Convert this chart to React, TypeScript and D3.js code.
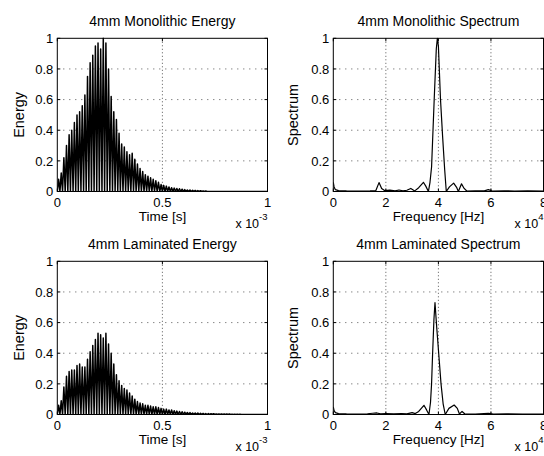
import React from 'react';
import * as d3 from 'd3';

const W = 544;
const H = 456;
const FONT = '"Liberation Sans", Arial, Helvetica, sans-serif';

// ---------- data ----------
// spacing between successive energy oscillation peaks (seconds)
const PEAK_SPACING_S = 1.25e-5;

// peak value of each energy oscillation, 4mm monolithic
const monoPeaks = [
  0.08, 0.12, 0.22, 0.3, 0.37, 0.4, 0.45, 0.5, 0.52, 0.56,
  0.63, 0.75, 0.84, 0.89, 0.95, 0.97, 0.93, 1.0, 0.97, 0.8,
  0.62, 0.52, 0.47, 0.38, 0.31, 0.29, 0.26, 0.24, 0.25, 0.21,
  0.18, 0.15, 0.13, 0.11, 0.1, 0.09, 0.08, 0.07, 0.06, 0.045,
  0.04, 0.035, 0.03, 0.025, 0.022, 0.02, 0.018, 0.015, 0.012, 0.01,
  0.01, 0.008, 0.007, 0.006, 0.005, 0.004, 0.003,
];

// peak value of each energy oscillation, 4mm laminated
const lamPeaks = [
  0.06, 0.09, 0.18, 0.25, 0.28, 0.29, 0.29, 0.32, 0.33, 0.31,
  0.31, 0.36, 0.41, 0.45, 0.49, 0.53, 0.52, 0.5, 0.53, 0.46,
  0.4, 0.33, 0.26, 0.22, 0.19, 0.17, 0.16, 0.14, 0.12, 0.1,
  0.085, 0.075, 0.07, 0.06, 0.06, 0.055, 0.05, 0.05, 0.045, 0.04,
  0.035, 0.035, 0.03, 0.03, 0.025, 0.022, 0.02, 0.018, 0.015, 0.013,
  0.012, 0.01, 0.01, 0.009, 0.008, 0.007, 0.006, 0.006, 0.005, 0.005,
  0.004, 0.004, 0.004, 0.003, 0.003, 0.003, 0.002, 0.002, 0.002, 0.002,
];

// spectra: frequency in units of 1e4 Hz, normalised magnitude
const monoSpecFreq = [
  0, 0.03, 0.08, 0.2, 0.5, 1.0, 1.4, 1.62, 1.74, 1.84,
  1.95, 2.15, 2.35, 2.5, 2.65, 2.8, 2.95, 3.1, 3.25, 3.43,
  3.52, 3.62, 3.68, 3.74, 3.84, 3.92, 3.96, 4.0, 4.08, 4.16,
  4.24, 4.3, 4.42, 4.58, 4.7, 4.76, 4.88, 4.98, 5.08, 5.4,
  5.75, 5.9, 6.05, 6.5, 6.9, 7.4, 8.0,
];
const monoSpecVal = [
  0.06, 0.03, 0.012, 0.006, 0.004, 0.003, 0.004, 0.006, 0.058, 0.02,
  0.006, 0.009, 0.004, 0.01, 0.004, 0.008, 0.02, 0.004, 0.025, 0.06,
  0.035, 0.0, 0.06, 0.16, 0.6, 0.93, 1.0, 0.95, 0.6, 0.36,
  0.14, 0.0, 0.03, 0.055, 0.025, 0.0, 0.05, 0.02, 0.003, 0.004,
  0.004, 0.012, 0.003, 0.005, 0.003, 0.004, 0.003,
];

const lamSpecFreq = [
  0, 0.03, 0.08, 0.2, 0.5, 1.0, 1.3, 1.5, 1.66, 1.8,
  2.0, 2.3, 2.6, 2.8, 3.0, 3.12, 3.25, 3.45, 3.55, 3.64,
  3.7, 3.74, 3.78, 3.83, 3.87, 3.94, 4.02, 4.1, 4.18, 4.26,
  4.4, 4.6, 4.72, 4.8, 4.9, 5.0, 5.4, 5.9, 6.1, 6.6,
  7.2, 8.0,
];
const lamSpecVal = [
  0.05, 0.025, 0.012, 0.006, 0.004, 0.003, 0.005, 0.008, 0.01, 0.004,
  0.006, 0.004, 0.006, 0.004, 0.012, 0.006, 0.02, 0.06, 0.03, 0.0,
  0.08, 0.2, 0.4, 0.62, 0.73, 0.56, 0.38, 0.2, 0.07, 0.0,
  0.04, 0.062, 0.04, 0.003, 0.02, 0.005, 0.003, 0.008, 0.003, 0.004,
  0.003, 0.003,
];

const timeTicks = [0, 0.5e-3, 1e-3];
const timeTickLabels = ['0', '0.5', '1'];
const freqTicks = [0, 2, 4, 6, 8];
const freqTickLabels = ['0', '2', '4', '6', '8'];
const yTicks = [0, 0.2, 0.4, 0.6, 0.8, 1];
const yTickLabels = ['0', '0.2', '0.4', '0.6', '0.8', '1'];

const titles = [
  '4mm Monolithic Energy',
  '4mm Monolithic Spectrum',
  '4mm Laminated Energy',
  '4mm Laminated Spectrum',
];

// ---------- helpers ----------
function energyPoints(peaks: number[]): [number, number][] {
  const pts: [number, number][] = [[0, 0]];
  peaks.forEach((p, k) => {
    const t = (k + 0.5) * PEAK_SPACING_S;
    pts.push([t, p]);
    pts.push([(k + 1) * PEAK_SPACING_S, 0]);
  });
  pts.push([1e-3, 0]);
  return pts;
}

function zipPts(xs: number[], ys: number[]): [number, number][] {
  return xs.map((x, i) => [x, ys[i]]);
}

type PanelProps = {
  id: string;
  left: number;
  top: number;
  width: number;
  height: number;
  xDomain: [number, number];
  xTicks: number[];
  xTickLabels: string[];
  title: string;
  xLabel: string;
  yLabel: string;
  yLabelX: number;
  expBase: string;
  expPow: string;
  points: [number, number][];
  lineWidth: number;
};

function Panel(p: PanelProps) {
  const x = d3.scaleLinear().domain(p.xDomain).range([p.left, p.left + p.width]);
  const y = d3.scaleLinear().domain([0, 1]).range([p.top + p.height, p.top]);
  const line = d3
    .line<[number, number]>()
    .x((d) => x(d[0]))
    .y((d) => y(d[1]));
  const bottom = p.top + p.height;
  const right = p.left + p.width;
  const cx = p.left + p.width / 2;
  const cy = p.top + p.height / 2;
  const tickLen = 3;
  return (
    <g>
      <defs>
        <clipPath id={p.id}>
          <rect x={p.left} y={p.top - 1} width={p.width} height={p.height + 1} />
        </clipPath>
      </defs>
      <rect x={p.left} y={p.top} width={p.width} height={p.height} fill="#fff" />
      {/* grid */}
      {p.xTicks.slice(1, -1).map((t, i) => (
        <line
          key={'gx' + i}
          x1={x(t)}
          x2={x(t)}
          y1={p.top}
          y2={bottom}
          stroke="#555"
          strokeWidth={1}
          strokeDasharray="1 2.5"
        />
      ))}
      {yTicks.slice(1, -1).map((t, i) => (
        <line
          key={'gy' + i}
          x1={p.left}
          x2={right}
          y1={y(t)}
          y2={y(t)}
          stroke="#555"
          strokeWidth={1}
          strokeDasharray="1 5"
        />
      ))}
      {/* data */}
      <path
        d={line(p.points) || ''}
        fill="none"
        stroke="#000"
        strokeWidth={p.lineWidth}
        strokeLinejoin="round"
        clipPath={`url(#${p.id})`}
      />
      {/* box */}
      <rect x={p.left} y={p.top} width={p.width} height={p.height} fill="none" stroke="#000" strokeWidth={1} />
      {/* ticks */}
      {p.xTicks.map((t, i) => (
        <g key={'tx' + i}>
          <line x1={x(t)} x2={x(t)} y1={bottom} y2={bottom - tickLen} stroke="#000" />
          <line x1={x(t)} x2={x(t)} y1={p.top} y2={p.top + tickLen} stroke="#000" />
          <text
            x={x(t)}
            y={bottom + 15.5}
            textAnchor="middle"
            fontSize={13}
            fontFamily={FONT}
          >
            {p.xTickLabels[i]}
          </text>
        </g>
      ))}
      {yTicks.map((t, i) => (
        <g key={'ty' + i}>
          <line x1={p.left} x2={p.left + tickLen} y1={y(t)} y2={y(t)} stroke="#000" />
          <line x1={right} x2={right - tickLen} y1={y(t)} y2={y(t)} stroke="#000" />
          <text
            x={p.left - 4}
            y={y(t)}
            dy="0.36em"
            textAnchor="end"
            fontSize={13}
            fontFamily={FONT}
          >
            {yTickLabels[i]}
          </text>
        </g>
      ))}
      {/* title */}
      <text x={cx} y={p.top - 12} textAnchor="middle" fontSize={14} fontFamily={FONT}>
        {p.title}
      </text>
      {/* x label */}
      <text x={cx} y={bottom + 29.5} textAnchor="middle" fontSize={13.5} fontFamily={FONT}>
        {p.xLabel}
      </text>
      {/* exponent */}
      <text x={right} y={bottom + 36} textAnchor="end" fontSize={12.5} fontFamily={FONT}>
        {p.expBase}
        <tspan dy={-8} fontSize={9.5}>
          {p.expPow}
        </tspan>
      </text>
      {/* y label */}
      <text
        transform={`translate(${p.yLabelX},${cy}) rotate(-90)`}
        textAnchor="middle"
        fontSize={14.5}
        fontFamily={FONT}
      >
        {p.yLabel}
      </text>
    </g>
  );
}

export default function App() {
  const leftX = 57.3;
  const rightX = 333.3;
  const w = 210.2;
  const topY = 38.3;
  const botY = 261.3;
  const h = 153.2;
  return (
    <svg
      width={W}
      height={H}
      viewBox={`0 0 ${W} ${H}`}
      style={{ position: 'absolute', left: 0, top: 0, background: '#fff' }}
    >
      <rect x={0} y={0} width={W} height={H} fill="#fff" />
      <Panel
        id="c1"
        left={leftX}
        top={topY}
        width={w}
        height={h}
        xDomain={[0, 1e-3]}
        xTicks={timeTicks}
        xTickLabels={timeTickLabels}
        title={titles[0]}
        xLabel="Time [s]"
        yLabel="Energy"
        yLabelX={24}
        expBase="x 10"
        expPow="-3"
        points={energyPoints(monoPeaks)}
        lineWidth={1.5}
      />
      <Panel
        id="c2"
        left={rightX}
        top={topY}
        width={w}
        height={h}
        xDomain={[0, 8]}
        xTicks={freqTicks}
        xTickLabels={freqTickLabels}
        title={titles[1]}
        xLabel="Frequency [Hz]"
        yLabel="Spectrum"
        yLabelX={297.5}
        expBase="x 10"
        expPow="4"
        points={zipPts(monoSpecFreq, monoSpecVal)}
        lineWidth={1.2}
      />
      <Panel
        id="c3"
        left={leftX}
        top={botY}
        width={w}
        height={h}
        xDomain={[0, 1e-3]}
        xTicks={timeTicks}
        xTickLabels={timeTickLabels}
        title={titles[2]}
        xLabel="Time [s]"
        yLabel="Energy"
        yLabelX={24}
        expBase="x 10"
        expPow="-3"
        points={energyPoints(lamPeaks)}
        lineWidth={1.5}
      />
      <Panel
        id="c4"
        left={rightX}
        top={botY}
        width={w}
        height={h}
        xDomain={[0, 8]}
        xTicks={freqTicks}
        xTickLabels={freqTickLabels}
        title={titles[3]}
        xLabel="Frequency [Hz]"
        yLabel="Spectrum"
        yLabelX={297.5}
        expBase="x 10"
        expPow="4"
        points={zipPts(lamSpecFreq, lamSpecVal)}
        lineWidth={1.2}
      />
    </svg>
  );
}
